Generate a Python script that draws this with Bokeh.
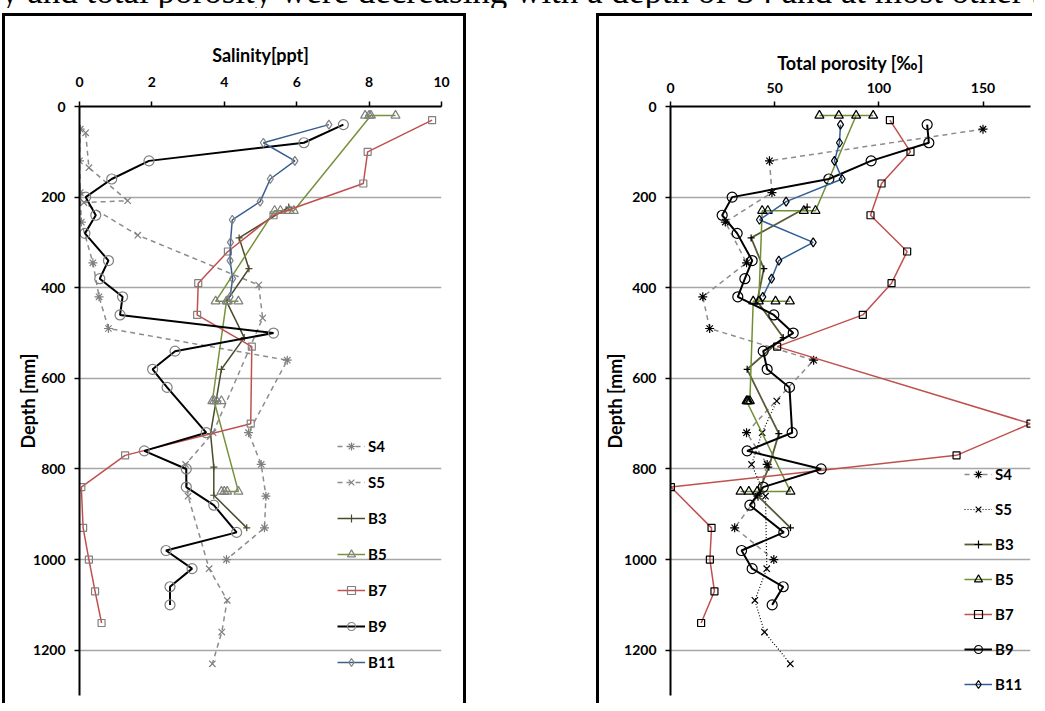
from bokeh.plotting import figure
from bokeh.models import Range1d, FixedTicker, Legend, LegendItem, Div, Spacer
from bokeh.layouts import column, row
from bokeh.embed import file_html
from bokeh.resources import INLINE

# ---------------- data ----------------
series_names = ["S4", "S5", "B3", "B5", "B7", "B9", "B11"]

s4_depth = [50, 120, 190, 255, 345, 420, 490, 560, 720, 790, 860, 930, 1000]
s4_sal = [0.02, 0.0, 0.02, 0.05, 0.37, 0.54, 0.80, 5.74, 4.67, 5.02, 5.15, 5.11, 4.06]
s4_por = [150.0, 47.5, 48.7, 26.3, 36.5, 15.5, 18.8, 68.7, 36.5, 46.4, 42.0, 30.8, 49.6]

s5_sal_depth = [58, 135, 208, 212, 284, 394, 467, 720, 790, 860, 1020, 1090, 1160, 1230]
s5_sal = [0.17, 0.26, 1.33, 0.12, 1.61, 4.95, 5.06, 3.69, 2.93, 3.00, 3.58, 4.08, 3.93, 3.67]
s5_por_depth = [650, 720, 790, 860, 1020, 1090, 1160, 1230]
s5_por = [51.0, 44.0, 38.9, 45.6, 46.2, 40.5, 45.1, 57.5]

b3_depth = [222, 290, 358, 430, 510, 580, 722, 796, 858, 930]
b3_sal = [5.78, 4.41, 4.68, 4.06, 4.55, 3.92, 3.62, 3.71, 3.71, 4.62]
b3_por = [65.6, 38.7, 44.8, 41.6, 54.1, 36.8, 52.0, 47.2, 41.6, 57.6]

b5_depth = [20, 20, 20, 20, 230, 230, 230, 230, 430, 430, 430, 430,
            650, 650, 650, 650, 850, 850, 850, 850]
b5_sal = [7.89, 8.73, 8.00, 8.05, 5.92, 5.80, 5.55, 5.39, 3.76, 4.39, 4.10, 4.06,
          3.67, 3.92, 3.79, 3.72, 4.39, 3.92, 4.08, 4.00]
b5_por = [71.5, 97.3, 80.8, 89.1, 69.6, 64.0, 46.7, 44.0, 42.4, 57.3, 50.4, 39.7,
          38.1, 37.3, 36.9, 36.5, 57.6, 41.6, 37.6, 33.6]

b7_depth = [30, 100, 170, 240, 320, 390, 460, 530, 700, 770, 840, 930, 1000, 1070, 1140]
b7_sal = [9.74, 7.96, 7.84, 5.36, 4.10, 3.28, 3.25, 4.76, 4.73, 1.26, 0.05, 0.10, 0.26, 0.43, 0.61]
b7_por = [105.3, 115.2, 101.3, 96.0, 113.6, 106.1, 92.3, 51.2, 172.8, 137.3, 0.2, 19.7, 18.9, 21.1, 14.7]

b9_depth = [40, 80, 120, 160, 200, 240, 280, 340, 380, 420, 460, 500, 540, 580, 620,
            720, 760, 800, 840, 880, 940, 980, 1020, 1060, 1100]
b9_sal = [7.29, 6.20, 1.92, 0.89, 0.17, 0.45, 0.15, 0.80, 0.56, 1.19, 1.12, 5.36, 2.64, 2.02, 2.42,
          3.50, 1.79, 2.95, 2.95, 3.71, 4.34, 2.39, 3.11, 2.50, 2.50]
b9_por = [123.2, 124.0, 96.3, 76.0, 29.6, 24.8, 32.0, 39.2, 35.7, 32.3, 49.6, 58.9, 44.5, 46.4, 57.1,
          58.4, 36.8, 72.3, 44.5, 38.1, 54.4, 34.1, 39.2, 54.1, 48.8]

b11_depth = [40, 80, 120, 160, 210, 250, 300, 340, 380, 420]
b11_sal = [6.89, 5.08, 5.95, 5.27, 4.99, 4.22, 4.17, 4.16, 4.23, 4.16]
b11_por = [81.6, 81.1, 78.7, 82.4, 55.5, 42.7, 68.5, 52.0, 48.5, 44.3]

sal_ticks = [0, 2, 4, 6, 8, 10]
por_ticks = [0, 50, 100, 150]
depth_ticks = [0, 200, 400, 600, 800, 1000, 1200]

top_text = "y and total porosity were decreasing with a depth of S4 and at most other stations"

# ---------------- styles ----------------
FONT = "Lato"
GRAY = "#8c8c8c"

left_styles = {
    "S4": dict(color=GRAY, dash="5 4", width=1.5, marker="asterisk", mcolor="#7f7f7f", size=9),
    "S5": dict(color=GRAY, dash="5 4", width=1.5, marker="x", mcolor="#7f7f7f", size=9),
    "B3": dict(color="#4a4a2c", dash="solid", width=1.5, marker="cross", mcolor="#4a4a2c", size=7),
    "B5": dict(color="#76923c", dash="solid", width=1.5, marker="triangle", mcolor="#808080", size=9),
    "B7": dict(color="#c0504d", dash="solid", width=1.5, marker="square", mcolor="#808080", size=7),
    "B9": dict(color="#000000", dash="solid", width=2, marker="circle", mcolor="#808080", size=10),
    "B11": dict(color="#3a5f8f", dash="solid", width=1.5, marker="diamond", mcolor="#808080", size=9),
}
right_styles = {
    "S4": dict(color="#8c8c8c", dash="5 4", width=1.5, marker="asterisk", mcolor="#000000", size=9),
    "S5": dict(color="#000000", dash="1 2", width=1.2, marker="x", mcolor="#000000", size=9),
    "B3": dict(color="#5a5a36", dash="solid", width=1.8, marker="cross", mcolor="#000000", size=7),
    "B5": dict(color="#6f8f35", dash="solid", width=1.5, marker="triangle", mcolor="#000000", size=9),
    "B7": dict(color="#c0504d", dash="solid", width=1.5, marker="square", mcolor="#000000", size=7),
    "B9": dict(color="#000000", dash="solid", width=2, marker="circle", mcolor="#000000", size=10),
    "B11": dict(color="#2f5f97", dash="solid", width=1.5, marker="diamond", mcolor="#000000", size=9),
}


def make_panel(xmax, xticks, xlabel, data, styles, legend_xy, legend_spacing, width, height, mb, css,
               label_standoff, axis_label_standoff):
    p = figure(width=width, height=height,
               x_range=Range1d(0, xmax), y_range=Range1d(1300, 0),
               x_axis_location="above", toolbar_location=None, output_backend="svg",
               min_border_left=mb[0], min_border_right=mb[1],
               min_border_top=mb[2], min_border_bottom=mb[3],
               background_fill_color="white", border_fill_color="white",
               outline_line_color=None, styles=css)
    p.xaxis.ticker = FixedTicker(ticks=xticks)
    p.yaxis.ticker = FixedTicker(ticks=depth_ticks)
    p.xgrid.visible = False
    p.ygrid.ticker = FixedTicker(ticks=depth_ticks[1:])
    p.ygrid.grid_line_color = "#a6a6a6"
    p.ygrid.grid_line_width = 1.5
    for ax in (p.xaxis[0], p.yaxis[0]):
        ax.axis_line_color = "black"
        ax.axis_line_width = 2
        ax.major_tick_line_color = "black"
        ax.major_tick_line_width = 1.5
        ax.major_tick_out = 5
        ax.major_tick_in = 0
        ax.minor_tick_line_color = None
        ax.major_label_text_font = FONT
        ax.major_label_text_font_style = "bold"
        ax.major_label_text_font_size = "14px"
        ax.major_label_text_color = "black"
        ax.axis_label_text_font = FONT
        ax.axis_label_text_font_style = "bold"
        ax.axis_label_text_font_size = "18px"
        ax.axis_label_text_color = "black"
    p.xaxis.axis_label = xlabel
    p.yaxis.axis_label = "Depth [mm]"
    p.xaxis.major_label_standoff = label_standoff[0]
    p.yaxis.major_label_standoff = label_standoff[1]
    p.xaxis.axis_label_standoff = axis_label_standoff[0]
    p.yaxis.axis_label_standoff = axis_label_standoff[1]

    items = []
    for name in series_names:
        xs, ys = data[name]
        st = styles[name]
        lr = p.line(xs, ys, line_color=st["color"], line_width=st["width"], line_dash=st["dash"])
        sr = p.scatter(xs, ys, marker=st["marker"], size=st["size"], line_color=st["mcolor"],
                       fill_color=None, line_width=1.2)
        items.append(LegendItem(label=name, renderers=[lr, sr]))
    leg = Legend(items=items, location=legend_xy, orientation="vertical",
                 background_fill_alpha=0, border_line_color=None,
                 padding=0, margin=0, spacing=legend_spacing, glyph_width=28, glyph_height=20,
                 label_height=20, label_standoff=3,
                 label_text_font=FONT, label_text_font_style="bold",
                 label_text_font_size="15px", label_text_color="black")
    p.add_layout(leg, "center")
    return p


left_data = {
    "S4": (s4_sal, s4_depth), "S5": (s5_sal, s5_sal_depth), "B3": (b3_sal, b3_depth),
    "B5": (b5_sal, b5_depth), "B7": (b7_sal, b7_depth), "B9": (b9_sal, b9_depth),
    "B11": (b11_sal, b11_depth),
}
right_data = {
    "S4": (s4_por, s4_depth), "S5": (s5_por, s5_por_depth), "B3": (b3_por, b3_depth),
    "B5": (b5_por, b5_depth), "B7": (b7_por, b7_depth), "B9": (b9_por, b9_depth),
    "B11": (b11_por, b11_depth),
}

left = make_panel(10, sal_ticks, "Salinity[ppt]", left_data, left_styles, (258, 23), 16,
                  464, 690, (74, 28, 90, 11),
                  {"border-left": "3px solid black", "border-top": "3px solid black",
                   "border-right": "3px solid black"},
                  (15, 9), (8, -9))
right = make_panel(172.8, por_ticks, "Total porosity [\u2030]", right_data, right_styles, (294, 1), 15,
                   436, 690, (71, 5, 90, 11),
                   {"border-left": "3px solid black", "border-top": "3px solid black"},
                   (9, 9), (6, -5))

div = Div(text=('<div style="position:absolute;left:-4px;top:-20px;white-space:nowrap;'
                'font-family:\'Liberation Serif\';font-size:35px;line-height:40px;color:black">'
                + top_text + '</div>'),
          width=1029, height=16,
          styles={"margin-top": "-8px", "overflow": "hidden", "position": "relative"})

layout = column(div, row(Spacer(width=2, height=10), left, Spacer(width=130, height=10), right))

open("out.html", "w").write(file_html(layout, INLINE))
